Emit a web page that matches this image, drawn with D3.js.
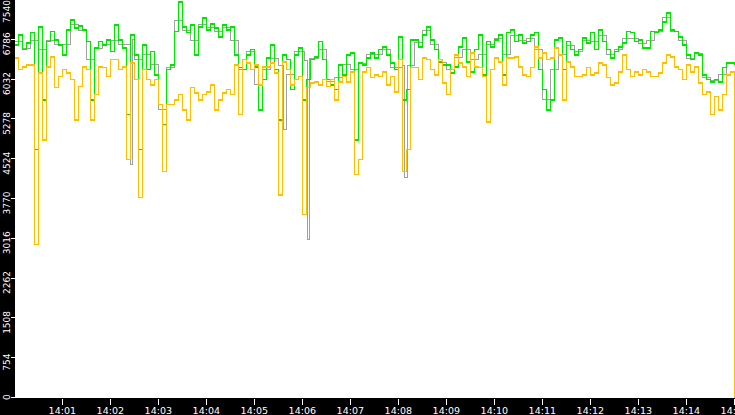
<!DOCTYPE html>
<html>
<head>
<meta charset="utf-8">
<script src="https://cdn.jsdelivr.net/npm/d3@7.9.0/dist/d3.min.js"></script>
<style>
  html, body { margin: 0; padding: 0; background: #000; overflow: hidden; }
  svg { display: block; }
  .tick-label { fill: #fff; font-family: "DejaVu Sans", sans-serif; }
</style>
</head>
<body>
<div id="chart"></div>
<script>
// === Data ===
// green and orange: one reading every 5 s from 14:00:00
const stepSeconds = 5;

const greenValues = [
  6690,6880,6600,6730,6920,4710,7030,5650,6750,6940,
  6780,6690,6500,6970,7160,7010,7050,6970,6750,5650,
  6630,6750,6690,6780,6560,7070,6780,6630,5370,6880,
  6500,4710,6690,6220,6560,6120,5560,5180,6220,6310,
  6940,7500,7030,6920,7070,6500,7030,7200,6970,7090,
  7010,6840,7070,6970,7030,6500,6260,6220,6500,6600,
  6270,5460,6030,6440,6690,6220,5270,6500,6410,5840,
  6500,6630,5650,6030,6410,6460,6750,6410,6030,5930,
  5840,6310,6120,6500,6540,4890,6350,6310,6440,6540,
  6440,6600,6650,6500,6350,6220,6840,5650,5840,6780,
  6780,6650,6880,7030,6780,6600,6370,6310,6310,6160,
  6270,6650,6820,6370,6180,6600,6880,6120,6750,6650,
  6780,6880,6120,6920,6970,6750,6880,6730,6750,6880,
  6920,6220,5840,5460,5650,6780,6820,6220,6750,6600,
  6500,6600,6820,6730,6920,6600,6970,6750,6600,6440,
  6560,6650,6730,6940,6920,6750,6780,6630,6630,6940,
  6920,6970,7120,7290,6970,6940,6840,6690,6500,6410,
  6540,6500,6120,6030,5990,6030,5990,6260,6350,6350,
  6310
];

const orangeValues = [
  6440,6220,6270,6310,6310,2910,6160,4890,6270,6460,
  5880,6090,6220,6160,6030,5270,5900,6270,6220,5270,
  5750,6270,6260,6090,6410,6410,6220,6270,4520,6350,
  6030,3800,6220,6030,5930,6030,5560,4290,5560,5560,
  5650,5750,5460,5270,5880,5780,5650,5750,5800,5930,
  5460,5650,5780,5840,5750,6310,5370,6410,6350,6220,
  6310,5930,6270,6270,6350,6160,3850,6370,6220,5930,
  6030,6090,3480,5880,5970,5990,5930,6030,5900,6030,
  5650,5990,6090,5990,6180,4230,4520,6180,6260,6070,
  6120,6090,6180,5930,6090,5800,6410,4290,4710,6260,
  6260,6030,6440,6410,6220,6120,6410,5970,5750,6220,
  6500,6350,6270,6090,6540,6270,6260,6090,5230,6220,
  6440,6370,5930,6440,6440,6460,6270,6120,6090,6260,
  6650,6440,6540,6410,6440,6630,6500,5650,6370,6270,
  6090,6090,6120,6260,6120,6160,6350,6310,6070,5930,
  5970,6180,6500,6220,6090,6180,6120,6220,6180,6090,
  6090,6160,6350,6500,6460,6270,6220,6030,6310,6180,
  6270,5970,5750,5800,5370,5710,5460,5750,6120,6180,
  0
];

// gray: irregular readings (seconds after 14:00:00)
const grayTimes = [
  0,10,20,30,40,50,60,70,80,90,
  100,110,120,130,142,145,148,150,160,170,
  180,190,200,210,220,230,240,250,260,270,
  280,290,300,310,320,330,336,340,350,363,
  366,369,380,390,400,410,420,430,440,450,
  460,470,485,488,491,500,510,520,530,540,
  550,560,570,580,590,600,610,620,630,640,
  650,660,670,680,690,700,710,720,730,740,
  750,760,770,780,790,800,810,820,830,840,
  850,860,870,880,890,900
];
const grayValues = [
  6750,6630,6780,6600,6780,6690,6690,7070,6970,6410,
  6630,6690,6780,6690,6700,4420,6800,6410,6500,6310,
  5460,6260,7160,6970,6780,7070,7010,6940,7010,6780,
  6220,6560,5930,6220,6440,6300,5080,6120,6560,6400,
  3000,6440,6600,5990,6070,6310,6220,6330,6500,6500,
  6600,6270,6300,4180,6300,6730,6970,6690,6350,6220,
  6460,6600,6410,6500,6690,6820,6500,6860,6780,6820,
  6600,5650,6220,6500,6670,6560,6780,6750,6860,6500,
  6600,6820,6820,6710,6780,6940,7200,6950,6770,6440,
  6520,6070,6010,6120,6350,6310
];

const yTicks = [0, 754, 1508, 2262, 3016, 3770, 4524, 5278, 6032, 6786, 7540];
const startTime = new Date(2000, 0, 1, 14, 0, 0);
const endTime = new Date(2000, 0, 1, 14, 15, 0);

// === Layout ===
const W = 735, H = 415;
const plot = { left: 15, top: 0, right: 735, bottom: 398 };

const svg = d3.select("#chart").append("svg")
  .attr("width", W).attr("height", H);

svg.append("rect").attr("width", W).attr("height", H).attr("fill", "#000");
svg.append("rect")
  .attr("x", plot.left).attr("y", plot.top)
  .attr("width", plot.right - plot.left).attr("height", plot.bottom - plot.top)
  .attr("fill", "#fff");

svg.append("clipPath").attr("id", "plotClip")
  .append("rect")
  .attr("x", plot.left).attr("y", plot.top)
  .attr("width", plot.right - plot.left).attr("height", plot.bottom - plot.top);

// === Scales ===
const x = d3.scaleTime().domain([startTime, endTime]).range([14.3, 734.3]);
const y = d3.scaleLinear().domain([0, 7540]).range([plot.bottom, 0]);

const at = s => new Date(startTime.getTime() + s * 1000);

const regular = vals => vals.map((v, i) => ({ t: at(i * stepSeconds), v }));
const greenData = regular(greenValues);
const orangeData = regular(orangeValues);
const grayData = grayTimes.map((s, i) => ({ t: at(s), v: grayValues[i] }));

// stepped lines, like the sampled readings in the reference
const line = d3.line()
  .x(d => x(d.t))
  .y(d => y(d.v))
  .curve(d3.curveStepAfter);

const lines = svg.append("g").attr("clip-path", "url(#plotClip)");

[
  { data: grayData, color: "#a0a0a0", width: 1 },
  { data: greenData, color: "#00e600", width: 1.5 },
  { data: orangeData, color: "#ffbf00", width: 1.5 }
].forEach(s => {
  lines.append("path")
    .datum(s.data)
    .attr("d", line)
    .attr("fill", "none")
    .attr("stroke", s.color)
    .attr("stroke-width", s.width)
    .attr("shape-rendering", "crispEdges");
});

// === Y axis (rotated labels in left strip) ===
const yAxis = svg.append("g");
yTicks.forEach(v => {
  const yy = Math.round(y(v)) - 0.5;
  yAxis.append("line")
    .attr("x1", 11).attr("x2", 15)
    .attr("y1", yy).attr("y2", yy)
    .attr("stroke", "#fff").attr("stroke-width", 1)
    .attr("shape-rendering", "crispEdges");
  const label = yAxis.append("text")
    .attr("class", "tick-label")
    .attr("font-size", 9)
    .attr("text-anchor", "middle")
    .text(v);
  // keep labels inside the strip at both ends
  const half = label.node().getComputedTextLength() / 2;
  let c = y(v) + 4;
  c = Math.max(c, half);
  c = Math.min(c, plot.bottom + 2 - half);
  label.attr("transform", `translate(10,${c}) rotate(-90)`);
});

// === X axis (bottom strip) ===
const xTicks = d3.timeMinute.range(at(60), at(901));
const fmt = d3.timeFormat("%H:%M");
const xAxis = svg.append("g");
xTicks.forEach(t => {
  const xx = Math.round(x(t)) + 0.5;
  xAxis.append("line")
    .attr("x1", xx).attr("x2", xx)
    .attr("y1", 399).attr("y2", 405)
    .attr("stroke", "#fff").attr("stroke-width", 1)
    .attr("shape-rendering", "crispEdges");
  xAxis.append("text")
    .attr("class", "tick-label")
    .attr("font-size", 9.5)
    .attr("text-anchor", "middle")
    .attr("x", x(t))
    .attr("y", 414)
    .text(fmt(t));
});
</script>
</body>
</html>
